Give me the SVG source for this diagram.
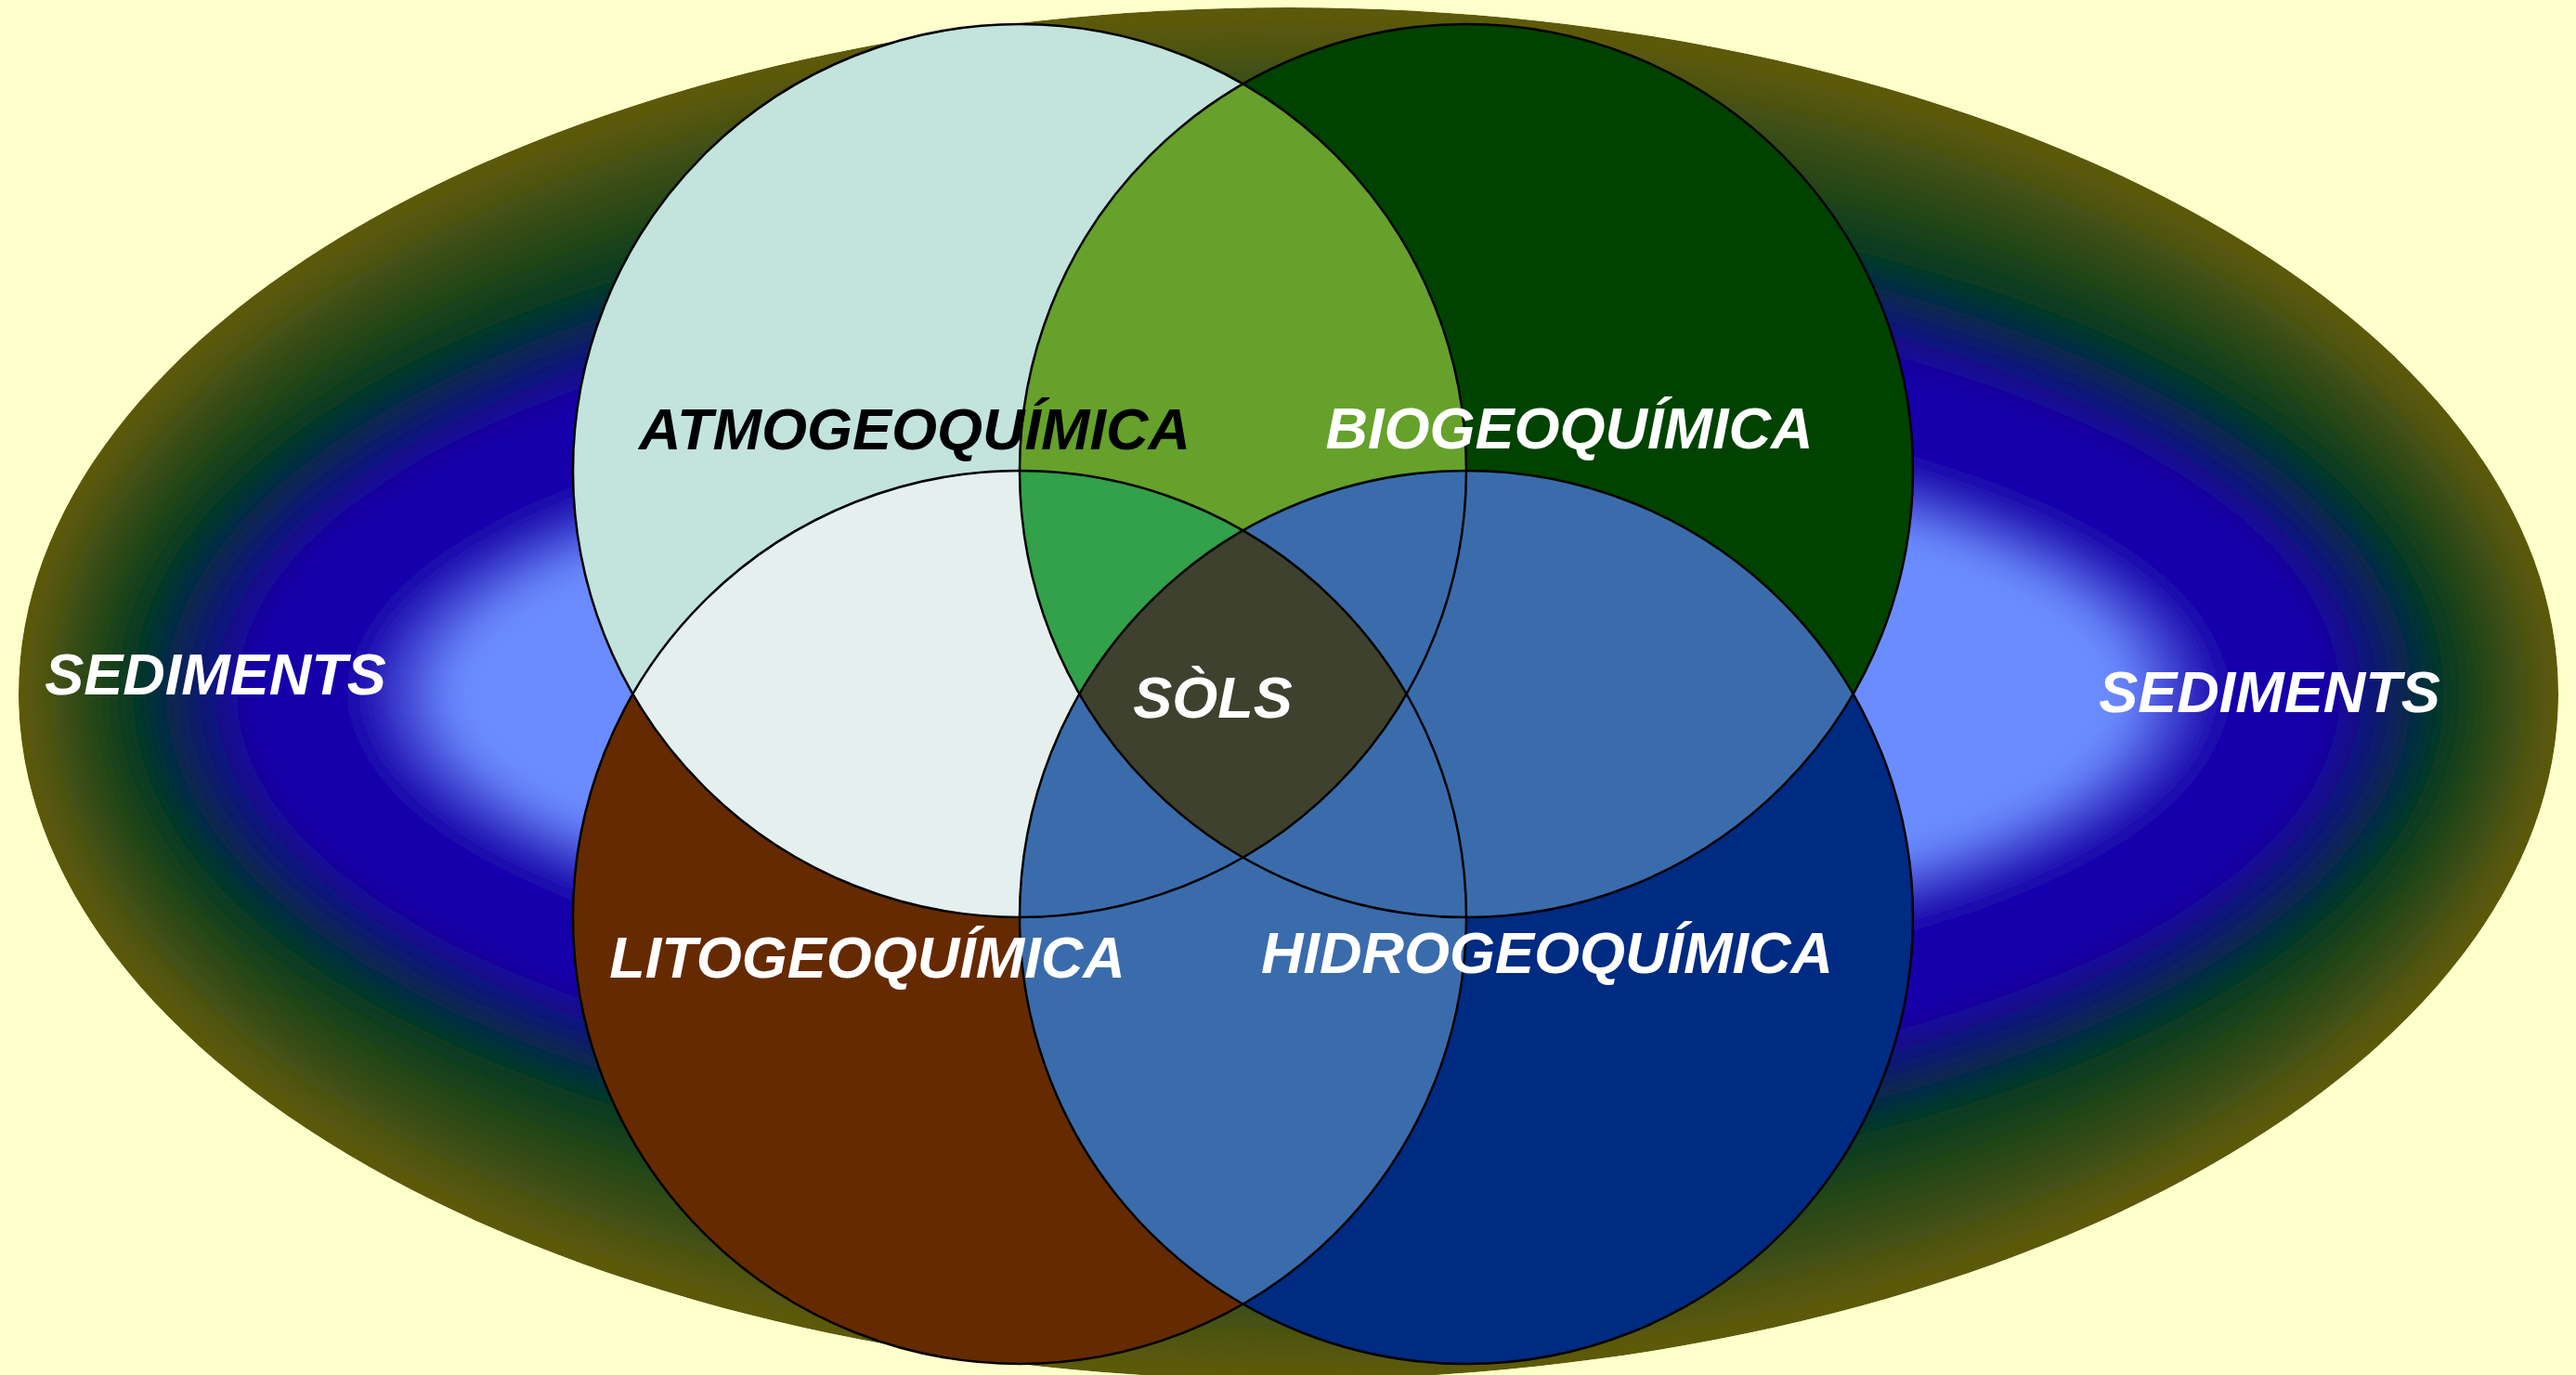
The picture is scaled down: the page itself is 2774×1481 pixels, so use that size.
<svg xmlns="http://www.w3.org/2000/svg" width="2774" height="1481" viewBox="0 0 2774 1481">
<style>
.lbl{font-family:"Liberation Sans",Arial,sans-serif;font-weight:bold;font-style:italic;font-size:63px;text-anchor:middle}
.w{fill:#ffffff}
.k{fill:#000000}
.edge{fill:none;stroke:#000000;stroke-width:2.5}
</style>
<defs>
<clipPath id="ellClip"><ellipse cx="1387.5" cy="747" rx="1367.5" ry="739"/></clipPath>
<clipPath id="cTL"><circle cx="1098" cy="507" r="481"/></clipPath>
<clipPath id="cTR"><circle cx="1579" cy="507" r="481"/></clipPath>
<clipPath id="cBL"><circle cx="1098" cy="988" r="481"/></clipPath>
<clipPath id="cOthers">
<circle cx="1098" cy="507" r="481"/>
<circle cx="1579" cy="507" r="481"/>
<circle cx="1098" cy="988" r="481"/>
</clipPath>
<filter id="smooth" x="-5%" y="-10%" width="110%" height="120%"><feGaussianBlur stdDeviation="17"/></filter>
</defs>
<rect x="0" y="0" width="2774" height="1481" fill="#ffffcc"/>
<g id="background-ellipse" clip-path="url(#ellClip)">
<ellipse cx="1387.5" cy="747" rx="1367.5" ry="739" fill="rgb(94,90,14)"/>
<g filter="url(#smooth)">
<ellipse cx="1387.5" cy="747" rx="1356" ry="721" fill="rgb(86,87,15)"/>
<ellipse cx="1387.5" cy="747" rx="1345" ry="703" fill="rgb(77,84,17)"/>
<ellipse cx="1387.5" cy="747" rx="1334" ry="685" fill="rgb(68,81,18)"/>
<ellipse cx="1387.5" cy="747" rx="1323.4" ry="667.8" fill="rgb(59,78,20)"/>
<ellipse cx="1387.5" cy="747" rx="1312" ry="650" fill="rgb(50,75,21)"/>
<ellipse cx="1387.5" cy="747" rx="1301" ry="632" fill="rgb(41,72,23)"/>
<ellipse cx="1387.5" cy="747" rx="1290" ry="614" fill="rgb(32,69,24)"/>
<ellipse cx="1387.5" cy="747" rx="1279.4" ry="596.5" fill="rgb(24,66,26)"/>
<ellipse cx="1387.5" cy="747" rx="1265" ry="573" fill="rgb(12,62,28)"/>
<ellipse cx="1387.5" cy="747" rx="1250" ry="549" fill="rgb(0,58,30)"/>
<ellipse cx="1387.5" cy="747" rx="1239.6" ry="540" fill="rgb(2,53,42)"/>
<ellipse cx="1387.5" cy="747" rx="1229.2" ry="530.8" fill="rgb(4,48,53)"/>
<ellipse cx="1387.5" cy="747" rx="1218.7" ry="521.7" fill="rgb(6,44,65)"/>
<ellipse cx="1387.5" cy="747" rx="1208.3" ry="512.7" fill="rgb(8,39,77)"/>
<ellipse cx="1387.5" cy="747" rx="1197.9" ry="503.6" fill="rgb(10,34,88)"/>
<ellipse cx="1387.5" cy="747" rx="1187.5" ry="494.5" fill="rgb(12,29,100)"/>
<ellipse cx="1387.5" cy="747" rx="1177.1" ry="485.4" fill="rgb(14,24,112)"/>
<ellipse cx="1387.5" cy="747" rx="1166.7" ry="476.3" fill="rgb(16,19,123)"/>
<ellipse cx="1387.5" cy="747" rx="1156.2" ry="467.2" fill="rgb(18,15,135)"/>
<ellipse cx="1387.5" cy="747" rx="1145.8" ry="458.2" fill="rgb(20,10,147)"/>
<ellipse cx="1387.5" cy="747" rx="1135.4" ry="449.1" fill="rgb(22,5,158)"/>
<ellipse cx="1387.5" cy="747" rx="1125" ry="440" fill="rgb(24,0,170)"/>
<ellipse cx="1387.5" cy="747" rx="1003" ry="325" fill="rgb(29,9,175)"/>
<ellipse cx="1387.5" cy="747" rx="996.3" ry="320.6" fill="rgb(34,18,181)"/>
<ellipse cx="1387.5" cy="747" rx="989.4" ry="316" fill="rgb(40,26,186)"/>
<ellipse cx="1387.5" cy="747" rx="982.5" ry="311.3" fill="rgb(45,35,191)"/>
<ellipse cx="1387.5" cy="747" rx="975.6" ry="306.6" fill="rgb(50,44,197)"/>
<ellipse cx="1387.5" cy="747" rx="968.8" ry="301.9" fill="rgb(55,53,202)"/>
<ellipse cx="1387.5" cy="747" rx="961.9" ry="297.2" fill="rgb(61,61,207)"/>
<ellipse cx="1387.5" cy="747" rx="955" ry="292.5" fill="rgb(66,70,213)"/>
<ellipse cx="1387.5" cy="747" rx="948.1" ry="287.8" fill="rgb(71,79,218)"/>
<ellipse cx="1387.5" cy="747" rx="941.3" ry="283.1" fill="rgb(76,88,223)"/>
<ellipse cx="1387.5" cy="747" rx="934.4" ry="278.4" fill="rgb(81,96,228)"/>
<ellipse cx="1387.5" cy="747" rx="927.5" ry="273.8" fill="rgb(86,105,234)"/>
<ellipse cx="1387.5" cy="747" rx="920.6" ry="269.1" fill="rgb(92,114,239)"/>
<ellipse cx="1387.5" cy="747" rx="913.8" ry="264.4" fill="rgb(97,123,244)"/>
<ellipse cx="1387.5" cy="747" rx="906.9" ry="259.7" fill="rgb(102,131,250)"/>
<ellipse cx="1387.5" cy="747" rx="900" ry="255" fill="rgb(107,140,255)"/>
</g>
</g>
<g id="regions">
<circle cx="1098" cy="507" r="481" fill="#c3e3dd"/>
<circle cx="1579" cy="507" r="481" fill="#004300"/>
<circle cx="1098" cy="988" r="481" fill="#662a00"/>
<circle cx="1579" cy="988" r="481" fill="#002b82"/>
<circle cx="1579" cy="507" r="481" fill="#66a12b" clip-path="url(#cTL)"/>
<circle cx="1098" cy="988" r="481" fill="#e5f0ee" clip-path="url(#cTL)"/>
<g clip-path="url(#cTL)"><circle cx="1098" cy="988" r="481" fill="#33a04a" clip-path="url(#cTR)"/></g>
<circle cx="1579" cy="988" r="481" fill="#3a6cac" clip-path="url(#cOthers)"/>
<g clip-path="url(#cTL)"><g clip-path="url(#cTR)"><circle cx="1579" cy="988" r="481" fill="#3e412e" clip-path="url(#cBL)"/></g></g>
</g>
<g id="atmo">
<circle class="edge" cx="1098" cy="507" r="481"/>
</g>
<g id="bio">
<circle class="edge" cx="1579" cy="507" r="481"/>
</g>
<g id="lito">
<circle class="edge" cx="1098" cy="988" r="481"/>
</g>
<g id="hidro">
<circle class="edge" cx="1579" cy="988" r="481"/>
</g>
<g id="labels">
<text class="lbl k" x="985" y="484">ATMOGEOQUÍMICA</text>
<text class="lbl w" x="1690" y="483">BIOGEOQUÍMICA</text>
<text class="lbl w" x="934" y="1053">LITOGEOQUÍMICA</text>
<text class="lbl w" x="1666" y="1048">HIDROGEOQUÍMICA</text>
</g>
<g id="sols">
<text class="lbl w" x="1306" y="773">SÒLS</text>
</g>
<g id="sediments-left">
<text class="lbl w" x="232" y="748">SEDIMENTS</text>
</g>
<g id="sediments-right">
<text class="lbl w" x="2444" y="767">SEDIMENTS</text>
</g>
</svg>
